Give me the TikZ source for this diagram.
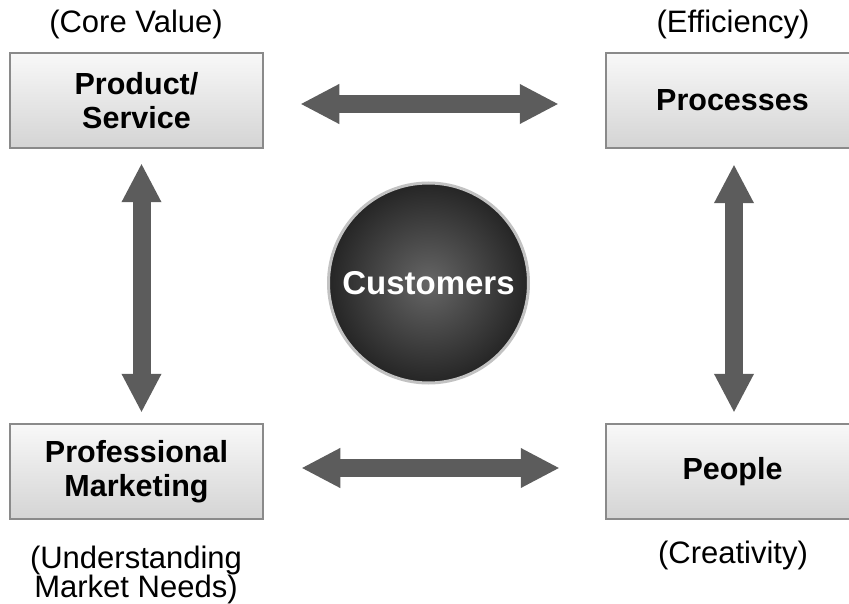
\documentclass[tikz,border=0pt]{standalone}
\usepackage{fontspec}
\setmainfont{Liberation Sans}
\usetikzlibrary{arrows.meta}
\definecolor{arrowgray}{HTML}{5C5C5C}
\definecolor{boxedge}{HTML}{8A8A8A}
\definecolor{boxtop}{HTML}{F8F8F8}
\definecolor{boxbot}{HTML}{D4D4D4}
\definecolor{circin}{HTML}{666666}
\definecolor{circout}{HTML}{252525}
\definecolor{circedge}{HTML}{C2C2C2}
\begin{document}
\begin{tikzpicture}[x=1pt,y=-1pt,
  box/.style={draw=boxedge, line width=2.5pt, top color=boxtop, bottom color=boxbot,
    minimum width=253pt, minimum height=95pt, inner sep=0pt, align=center,
    font=\fontsize{30.5}{34}\selectfont\bfseries},
  caption/.style={align=center, inner sep=0pt, font=\fontsize{31}{29}\selectfont},
  bigarrow/.style={draw=arrowgray, line width=18pt,
    {Triangle[width=37pt,length=39pt]}-{Triangle[width=37pt,length=39pt]}},
  hub/.style={circle, draw=circedge, line width=3pt, inner color=circin, outer color=circout,
    minimum size=200pt, inner sep=0pt, text=white, font=\fontsize{33}{36}\selectfont\bfseries}
]
\useasboundingbox (0,0) rectangle (849,604);

\node[box] (ps) at (136.5,100.5) {Product/\\Service};
\node[box] (proc) at (732.5,100.5) {Processes};
\node[box] (pm) at (136.5,471.5) {Professional\\Marketing};
\node[box] (peo) at (732.5,471.5) {People};
\node[hub] (cust) at (428.5,283) {Customers};

\node[caption] (c1) at (136,24) {(Core Value)};
\node[caption] (c2) at (733,24) {(Efficiency)};
\node[caption] (c3) at (136,575) {(Understanding\\Market Needs)};
\node[caption] (c4) at (733,555) {(Creativity)};

\draw[bigarrow] ([xshift=36pt,yshift=-3.5pt]ps.east) -- ([xshift=-46pt,yshift=-3.5pt]proc.west);
\draw[bigarrow] ([xshift=37pt,yshift=3.5pt]pm.east) -- ([xshift=-45pt,yshift=3.5pt]peo.west);
\draw[bigarrow] ([xshift=5pt,yshift=-14pt]ps.south) -- ([xshift=5pt,yshift=10pt]pm.north);
\draw[bigarrow] ([xshift=1.5pt,yshift=-15pt]proc.south) -- ([xshift=1.5pt,yshift=10pt]peo.north);
\end{tikzpicture}
\end{document}
